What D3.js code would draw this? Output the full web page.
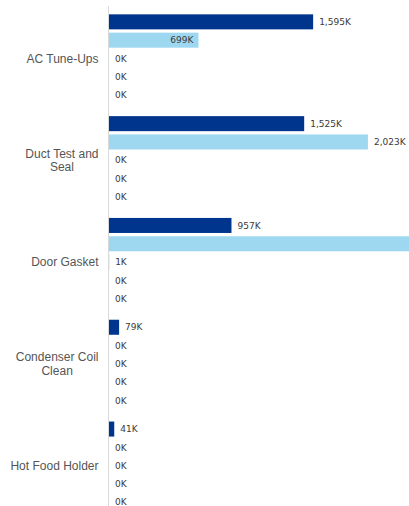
<!DOCTYPE html>
<html>
<head>
<meta charset="utf-8">
<script src="https://cdn.jsdelivr.net/npm/d3@7"></script>
<style>
  html, body { margin: 0; padding: 0; background: #fff; }
  svg { display: block; }
</style>
</head>
<body>
<div id="chart"></div>
<script>
// Measures by measure category, values in thousands
const categories = ["AC Tune-Ups", "Duct Test and Seal", "Door Gasket", "Condenser Coil Clean", "Hot Food Holder"];
const seriesNames = ["Measure 1", "Measure 2", "Measure 3", "Measure 4", "Measure 5"];
const measure1 = [1595, 1525, 957, 79, 41];
const measure2 = [699, 2023, 2650, 0, 0];
const measure3 = [0, 0, 1, 0, 0];
const measure4 = [0, 0, 0, 0, 0];
const measure5 = [0, 0, 0, 0, 0];
const categoryLines = [["AC Tune-Ups"], ["Duct Test and", "Seal"], ["Door Gasket"], ["Condenser Coil", "Clean"], ["Hot Food Holder"]];

const seriesValues = [measure1, measure2, measure3, measure4, measure5];
const seriesColors = ["#00358e", "#9ed8f0", "#6b6b6b", "#f2b705", "#7fba00"];
// label sits inside the bar end for these (series, category) pairs
const insideLabels = [[1, 0]];

const W = 409, H = 506;
const axisX = 108.5;

const svg = d3.select("#chart").append("svg")
  .attr("width", W).attr("height", H);

const y0 = d3.scaleBand()
  .domain(categories)
  .range([7.6, 7.6 + 101.8 * categories.length])
  .paddingInner(0.1)
  .paddingOuter(0.05);

const y1 = d3.scaleBand()
  .domain(seriesNames)
  .range([0, y0.bandwidth()])
  .paddingInner(0.18)
  .paddingOuter(0.09);

const x = d3.scaleLinear()
  .domain([0, 2344])
  .range([axisX + 0.5, W]);

const rows = [];
categories.forEach((c, ci) => {
  seriesNames.forEach((s, si) => {
    rows.push({ cat: c, ci, series: s, si, value: seriesValues[si][ci] });
  });
});

// bars
svg.append("g").selectAll("rect")
  .data(rows.filter(d => d.value > 0))
  .join("rect")
  .attr("x", x(0))
  .attr("y", d => y0(d.cat) + y1(d.series))
  .attr("width", d => Math.max(0, x(d.value) - x(0)))
  .attr("height", y1.bandwidth())
  .attr("fill", d => seriesColors[d.si]);

// axis line
svg.append("line")
  .attr("x1", axisX).attr("x2", axisX)
  .attr("y1", 6).attr("y2", H)
  .attr("stroke", "#d9d9d9").attr("stroke-width", 1);

// value labels
const fmt = v => d3.format(",")(Math.round(v)) + "K";
const isInside = d => insideLabels.some(p => p[0] === d.si && p[1] === d.ci);
const labels = svg.append("g")
  .attr("font-family", "'DejaVu Sans', Verdana, sans-serif")
  .attr("font-size", 9)
  .attr("fill", "#3a3a3a");

labels.selectAll("text")
  .data(rows.filter(d => isInside(d) || x(d.value) + 6 < W - 20))
  .join("text")
  .attr("x", d => isInside(d) ? x(d.value) - 5 : x(d.value) + 6)
  .attr("y", d => y0(d.cat) + y1(d.series) + y1.bandwidth() / 2)
  .attr("dy", "0.35em")
  .attr("text-anchor", d => isInside(d) ? "end" : "start")
  .text(d => fmt(d.value));

// category labels: right-aligned block, wrapped lines centred within it
const catG = svg.append("g")
  .attr("font-family", "'Liberation Sans', Arial, sans-serif")
  .attr("font-size", 12)
  .attr("fill", "#555");

const labelRight = 98.5, lineH = 13.6;
categories.forEach((c, ci) => {
  const lines = categoryLines[ci];
  const cy = y0(c) + y0.bandwidth() / 2;
  const text = catG.append("text").attr("text-anchor", "middle");
  const spans = lines.map((ln, li) => text.append("tspan")
    .attr("y", cy + (li - (lines.length - 1) / 2) * lineH)
    .attr("dy", "0.35em")
    .text(ln));
  const maxW = d3.max(spans, s => s.node().getComputedTextLength());
  spans.forEach(s => s.attr("x", labelRight - maxW / 2));
});
</script>
</body>
</html>
